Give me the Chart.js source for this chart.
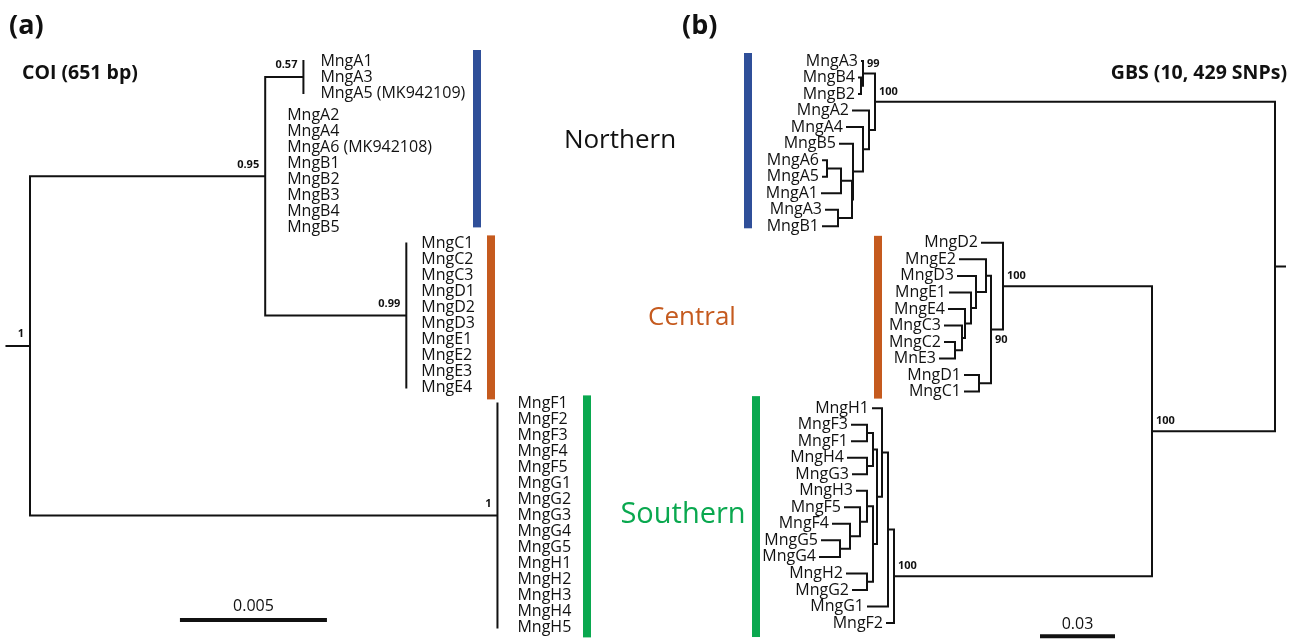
<!DOCTYPE html>
<html>
<head>
<meta charset="utf-8">
<script src="https://cdn.jsdelivr.net/npm/chart.js@4.4.0/dist/chart.umd.min.js"></script>
<style>
  html, body { margin: 0; padding: 0; background: #fff; }
  #wrap { width: 1301px; height: 640px; }
</style>
</head>
<body>
<div id="wrap"><canvas id="treeChart" width="1301" height="640"></canvas></div>
<script>
// ---------- Tree (a): COI, depths = distance from root (subst./site) ----------
const tipNamesA = ["MngA1", "MngA3", "MngA5 (MK942109)", "MngA2", "MngA4", "MngA6 (MK942108)",
    "MngB1", "MngB2", "MngB3", "MngB4", "MngB5",
    "MngC1", "MngC2", "MngC3", "MngD1", "MngD2", "MngD3", "MngE1", "MngE2", "MngE3", "MngE4",
    "MngF1", "MngF2", "MngF3", "MngF4", "MngF5", "MngG1", "MngG2", "MngG3", "MngG4", "MngG5",
    "MngH1", "MngH2", "MngH3", "MngH4", "MngH5"];
const tipRowsA = [0, 1, 2, 3.4, 4.4, 5.4, 6.4, 7.4, 8.4, 9.4, 10.4,
    11.4, 12.4, 13.4, 14.4, 15.4, 16.4, 17.4, 18.4, 19.4, 20.4,
    21.4, 22.4, 23.4, 24.4, 25.4, 26.4, 27.4, 28.4, 29.4, 30.4, 31.4, 32.4, 33.4, 34.4, 35.4];
const tipParentA = ["n57", "n57", "n57", "n95", "n95", "n95", "n95", "n95", "n95", "n95", "n95",
    "n99", "n99", "n99", "n99", "n99", "n99", "n99", "n99", "n99", "n99",
    "n1", "n1", "n1", "n1", "n1", "n1", "n1", "n1", "n1", "n1", "n1", "n1", "n1", "n1", "n1"];
const tipDepthA = [0.0093, 0.0093, 0.0093, 0.0080, 0.0080, 0.0080, 0.0080, 0.0080, 0.0080, 0.0080, 0.0080,
    0.0128, 0.0128, 0.0128, 0.0128, 0.0128, 0.0128, 0.0128, 0.0128, 0.0128, 0.0128,
    0.0159, 0.0159, 0.0159, 0.0159, 0.0159, 0.0159, 0.0159, 0.0159, 0.0159, 0.0159,
    0.0159, 0.0159, 0.0159, 0.0159, 0.0159];
const nodeIdsA = ["root", "n95", "n57", "n99", "n1"];
const nodeParentA = [null, "root", "n95", "n95", "root"];
const nodeDepthA = [0, 0.0080, 0.0093, 0.0128, 0.0159];
const nodeSupportA = ["1", "0.95", "0.57", "0.99", "1"];
const rootStubA = 0.0008;
const scaleLengthA = 0.005;

// ---------- Tree (b): GBS ----------
const tipNamesB = ["MngA3", "MngB4", "MngB2", "MngA2", "MngA4", "MngB5", "MngA6", "MngA5", "MngA1", "MngA3", "MngB1",
    "MngD2", "MngE2", "MngD3", "MngE1", "MngE4", "MngC3", "MngC2", "MnE3", "MngD1", "MngC1",
    "MngH1", "MngF3", "MngF1", "MngH4", "MngG3", "MngH3", "MngF5", "MngF4", "MngG5", "MngG4",
    "MngH2", "MngG2", "MngG1", "MngF2"];
const tipRowsB = [0, 1, 2, 3, 4, 5, 6, 7, 8, 9, 10, 11, 12, 13, 14, 15, 16, 17, 18, 19, 20,
    21, 22, 23, 24, 25, 26, 27, 28, 29, 30, 31, 32, 33, 34];
const tipParentB = ["n99", "nB4B2", "nB4B2", "nA2", "nA4", "nB5", "nA65", "nA65", "nA651", "nA3B1", "nA3B1",
    "nC100", "nE2", "nD3", "nE1", "nE4", "nC3", "nC2", "nC2", "nD1C1", "nD1C1",
    "nH1", "nF3F1", "nF3F1", "nH4G3", "nH4G3", "nH3", "nF5", "nF4", "nG5G4", "nG5G4",
    "nH2G2", "nH2G2", "nG1", "nS100"];
const tipDepthB = [0.1652, 0.1664, 0.1664, 0.1688, 0.1712, 0.1740, 0.1808, 0.1808, 0.1812, 0.1796, 0.1808,
    0.1172, 0.1260, 0.1268, 0.1300, 0.1304, 0.1320, 0.1320, 0.1340, 0.1240, 0.1240,
    0.1608, 0.1692, 0.1692, 0.1708, 0.1688, 0.1672, 0.1720, 0.1768, 0.1812, 0.1820,
    0.1712, 0.1688, 0.1628, 0.1552];
const nodeIdsB = ["root", "nN100", "n99", "nB4B2", "nA2", "nA4", "nB5", "nMid", "nA651", "nA65", "nA3B1",
    "nCS", "nC100", "n90", "nE2", "nD3", "nE1", "nE4", "nC3", "nC2", "nD1C1",
    "nS100", "nG1", "nH1", "n877", "nFH4", "nF3F1", "nH4G3", "nH3H2", "nH3", "nF5", "nF4", "nG5G4", "nH2G2"];
const nodeParentB = [null, "root", "nN100", "n99", "nN100", "nA2", "nA4", "nB5", "nMid", "nA651", "nMid",
    "root", "nCS", "nC100", "n90", "nE2", "nD3", "nE1", "nE4", "nC3", "n90",
    "nCS", "nS100", "nG1", "nH1", "n877", "nFH4", "nFH4", "n877", "nH3H2", "nH3", "nF5", "nF4", "nH3H2"];
const nodeDepthB = [0, 0.1600, 0.1648, 0.1656, 0.1624, 0.1648, 0.1688, 0.1692, 0.1736, 0.1792, 0.1748,
    0.0492, 0.1088, 0.1136, 0.1156, 0.1196, 0.1216, 0.1240, 0.1252, 0.1280, 0.1184,
    0.1524, 0.1548, 0.1572, 0.1592, 0.1608, 0.1632, 0.1632, 0.1608, 0.1632, 0.1660, 0.1700, 0.1740, 0.1632];
const nodeSupportB = ["", "100", "99", "", "", "", "", "", "", "", "",
    "100", "100", "90", "", "", "", "", "", "", "",
    "100", "", "", "", "", "", "", "", "", "", "", "", ""];
const rootStubB = 0.004;
const scaleLengthB = 0.03;

// ---------- groups ----------
const groupNames = ["Northern", "Central", "Southern"];
const groupLetters = ["AB", "CDE", "FGH"];
const groupColors = ["#2f4f99", "#c55a1e", "#0aa84f"];

// ---------- layout (pixels) ----------
const W = 1301, H = 640;
const pxPerUnitA = 29400, rootPxA = 30, rowPxA = 16, row0PxA = 61;
const pxPerUnitB = 2500, rootPxB = 1275, rowPxB = 16.53, row0PxB = 61;
const labelGapA = { n57: 17, n95: 22, n99: 15, n1: 20 };
const barsA = [{ x: 477, top: 11, bottom: 0 }, { x: 491, top: 8, bottom: 12 }, { x: 587, top: 8, bottom: 10 }];
const barsB = [{ x: 748, top: 8, bottom: 2 }, { x: 878, top: 7, bottom: 7 }, { x: 756, top: 12, bottom: 14 }];
const groupLabelPos = [{ x: 620, y: 141, size: 26 }, { x: 692, y: 318, size: 26 }, { x: 683, y: 515, size: 29 }];
const scaleBarA = { start: 0.0051, row: 34.94 };
const scaleBarB = { start: 0.064, row: 34.8 };
const ink = "#111";

const buildTree = (names, rows, parents, depths, ids, nodeParents, nodeDepths, supports) => {
    const nodes = {};
    ids.forEach((id, i) => {
        nodes[id] = { id, parent: nodeParents[i], x: nodeDepths[i], support: supports[i], children: [] };
    });
    const tips = names.map((name, i) => ({ name, x: depths[i], y: rows[i], parent: parents[i] }));
    tips.forEach(t => nodes[t.parent].children.push(t));
    ids.forEach((id, i) => {
        if (nodeParents[i]) nodes[nodeParents[i]].children.push(nodes[id]);
    });
    const yOf = n => {
        if (n.y === undefined) {
            const ys = n.children.map(yOf);
            n.y = ys.reduce((a, b) => a + b, 0) / ys.length;
        }
        return n.y;
    };
    ids.forEach(id => yOf(nodes[id]));
    return { nodes, tips, root: nodes[ids[0]] };
};

// one polyline per branch, broken by null points
const branchPoints = (tree, stub) => {
    const pts = [];
    const seg = (x1, y1, x2, y2) => {
        pts.push({ x: x1, y: y1 }, { x: x2, y: y2 }, { x: x2, y: null });
    };
    Object.values(tree.nodes).forEach(n => {
        const ys = n.children.map(c => c.y);
        seg(n.x, Math.min(...ys), n.x, Math.max(...ys));
        n.children.forEach(c => {
            if (c.x !== n.x) seg(n.x, c.y, c.x, c.y);
        });
    });
    seg(tree.root.x - stub, tree.root.y, tree.root.x, tree.root.y);
    return pts;
};

const treeA = buildTree(tipNamesA, tipRowsA, tipParentA, tipDepthA, nodeIdsA, nodeParentA, nodeDepthA, nodeSupportA);
const treeB = buildTree(tipNamesB, tipRowsB, tipParentB, tipDepthB, nodeIdsB, nodeParentB, nodeDepthB, nodeSupportB);

const groupRange = (names, rows, letters) => {
    const sel = rows.filter((r, i) => letters.includes(names[i].match(/Mng?([A-H])/)[1]));
    return [Math.min(...sel), Math.max(...sel)];
};

const treeAnnotations = {
    id: "treeAnnotations",
    afterDatasetsDraw(chart) {
        const { ctx, scales } = chart;
        const { xa, ya, xb, yb } = scales;
        ctx.save();
        ctx.fillStyle = ink;

        // tip labels
        ctx.font = "16px 'Open Sans'";
        ctx.textBaseline = "middle";
        ctx.textAlign = "left";
        treeA.tips.forEach(t => ctx.fillText(t.name, xa.getPixelForValue(t.x) + labelGapA[t.parent], ya.getPixelForValue(t.y)));
        ctx.textAlign = "right";
        treeB.tips.forEach(t => ctx.fillText(t.name, xb.getPixelForValue(t.x) - 4, yb.getPixelForValue(t.y)));

        // support values
        ctx.font = "bold 11px 'Open Sans'";
        ctx.textAlign = "right";
        Object.values(treeA.nodes).forEach(n => {
            if (n.support) ctx.fillText(n.support, xa.getPixelForValue(n.x) - 6, ya.getPixelForValue(n.y) - 12);
        });
        ctx.textAlign = "left";
        Object.values(treeB.nodes).forEach(n => {
            if (!n.support) return;
            const dy = n.id === "n90" ? 10 : -10;
            ctx.fillText(n.support, xb.getPixelForValue(n.x) + 4, yb.getPixelForValue(n.y) + dy);
        });

        // clade bars and group names
        groupNames.forEach((g, i) => {
            ctx.fillStyle = groupColors[i];
            const [a0, a1] = groupRange(tipNamesA, tipRowsA, groupLetters[i]);
            const ta = ya.getPixelForValue(a0) - barsA[i].top;
            ctx.fillRect(barsA[i].x - 4, ta, 8, ya.getPixelForValue(a1) + barsA[i].bottom - ta);
            const [b0, b1] = groupRange(tipNamesB, tipRowsB, groupLetters[i]);
            const tb = yb.getPixelForValue(b0) - barsB[i].top;
            ctx.fillRect(barsB[i].x - 4, tb, 8, yb.getPixelForValue(b1) + barsB[i].bottom - tb);
            ctx.fillStyle = i === 0 ? ink : groupColors[i];
            ctx.font = groupLabelPos[i].size + "px 'Open Sans'";
            ctx.textAlign = "center";
            ctx.fillText(g, groupLabelPos[i].x, groupLabelPos[i].y);
        });

        // titles
        ctx.fillStyle = ink;
        ctx.textAlign = "left";
        ctx.font = "bold 27px 'Open Sans'";
        ctx.fillText("(a)", 9, 26);
        ctx.fillText("(b)", 682, 26);
        ctx.font = "bold 19.5px 'Open Sans'";
        ctx.fillText("COI (651 bp)", 22, 73);
        ctx.textAlign = "right";
        ctx.fillText("GBS (10, 429 SNPs)", 1287, 73);

        // scale bar labels
        ctx.font = "16px 'Open Sans'";
        ctx.textAlign = "center";
        ctx.fillText("0.005", xa.getPixelForValue(scaleBarA.start + scaleLengthA / 2), ya.getPixelForValue(scaleBarA.row) - 14);
        ctx.fillText("0.03", xb.getPixelForValue(scaleBarB.start + scaleLengthB / 2), yb.getPixelForValue(scaleBarB.row) - 12);
        ctx.restore();
    }
};

const lineStyle = { showLine: true, borderColor: ink, borderWidth: 2, pointRadius: 0, spanGaps: false, borderCapStyle: "square" };

new Chart(document.getElementById("treeChart"), {
    type: "scatter",
    data: {
        datasets: [
            { ...lineStyle, data: branchPoints(treeA, rootStubA), xAxisID: "xa", yAxisID: "ya" },
            { ...lineStyle, data: branchPoints(treeB, rootStubB), xAxisID: "xb", yAxisID: "yb" },
            { ...lineStyle, borderWidth: 4, borderCapStyle: "butt", xAxisID: "xa", yAxisID: "ya",
              data: [{ x: scaleBarA.start, y: scaleBarA.row }, { x: scaleBarA.start + scaleLengthA, y: scaleBarA.row }] },
            { ...lineStyle, borderWidth: 4, borderCapStyle: "butt", xAxisID: "xb", yAxisID: "yb",
              data: [{ x: scaleBarB.start, y: scaleBarB.row }, { x: scaleBarB.start + scaleLengthB, y: scaleBarB.row }] }
        ]
    },
    options: {
        responsive: false,
        animation: false,
        layout: { padding: 0 },
        plugins: { legend: { display: false }, tooltip: { enabled: false } },
        scales: {
            xa: { type: "linear", display: false, min: -rootPxA / pxPerUnitA, max: (W - rootPxA) / pxPerUnitA },
            ya: { type: "linear", display: false, reverse: true, min: -row0PxA / rowPxA, max: (H - row0PxA) / rowPxA },
            xb: { type: "linear", display: false, reverse: true, min: -(W - rootPxB) / pxPerUnitB, max: rootPxB / pxPerUnitB },
            yb: { type: "linear", display: false, reverse: true, min: -row0PxB / rowPxB, max: (H - row0PxB) / rowPxB }
        }
    },
    plugins: [treeAnnotations]
});
</script>
</body>
</html>
